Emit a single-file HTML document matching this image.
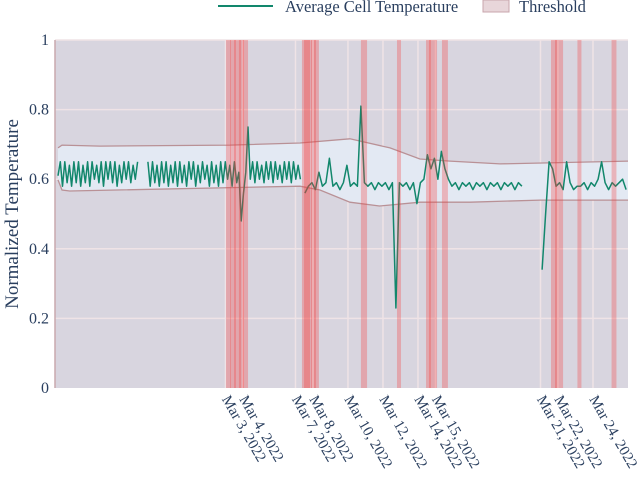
<!DOCTYPE html>
<html><head><meta charset="utf-8"><style>
html,body{margin:0;padding:0;background:#fff;}
svg{display:block;font-family:"Liberation Serif",serif;}
</style></head><body>
<svg id="chart" width="640" height="483" viewBox="0 0 640 483">
  <g>
    <g>
      <line x1="218" y1="6" x2="273" y2="6" stroke="#12876c" stroke-width="2"/>
      <text x="285" y="12" font-size="16.5" fill="#2a3f5f">Average Cell Temperature</text>
    </g>
    <g>
      <rect x="483" y="0" width="26" height="12" fill="#e8d6da" stroke="#c8a6ac" stroke-width="1"/>
      <text x="519" y="12" font-size="16.5" fill="#2a3f5f">Threshold</text>
    </g>
  </g>
  <rect x="55" y="40" width="573" height="348" fill="#d8d5df"/>
  <g id="grid"></g>
  <g id="band"></g>
  <g id="series"></g>
  <g id="anoms"></g>
  <line x1="55" y1="40" x2="55" y2="388" stroke="#c9a9ad" stroke-width="1.5"/>
  <g id="yticks"></g>
  <g id="xticks"></g>
  <text transform="translate(18,214) rotate(-90)" text-anchor="middle" font-size="19" fill="#2a3f5f">Normalized Temperature</text>
</svg>
<script>
// data (time in days relative to Mar 3, 2022)
const yTicks = [0, 0.2, 0.4, 0.6, 0.8, 1];
const yTickLabels = ["0", "0.2", "0.4", "0.6", "0.8", "1"];
const xTickDays = [0, 1, 4, 5, 7, 9, 11, 12, 18, 19, 21];
const xTickLabels = ["Mar 3, 2022","Mar 4, 2022","Mar 7, 2022","Mar 8, 2022","Mar 10, 2022","Mar 12, 2022","Mar 14, 2022","Mar 15, 2022","Mar 21, 2022","Mar 22, 2022","Mar 24, 2022"];
const upperT = [-9.57,-9.34,-7.17,0.26,4.26,7.11,9.4,11.11,12.83,15.69,23];
const upperV = [0.690,0.698,0.695,0.698,0.704,0.716,0.690,0.658,0.652,0.644,0.652];
const lowerT = [-9.57,-9.34,-8.9,4.26,5.4,7.11,8.8,11.11,13.97,17.97,23];
const lowerV = [0.598,0.569,0.566,0.580,0.569,0.534,0.523,0.534,0.534,0.540,0.540];
const segAStart = -9.57, segAStep = 0.13;
const segAVals = [0.61,0.65,0.58,0.65,0.59,0.64,0.58,0.65,0.59,0.65,0.58,0.64,0.59,0.65,0.58,0.65,0.60,0.64,0.59,0.65,0.58,0.65,0.60,0.65,0.59,0.65,0.58,0.64,0.59,0.65,0.60,0.65,0.59,0.64,0.60,0.65];
const segBStart = -4.43, segBStep = 0.13;
const segBVals = [0.65,0.58,0.65,0.59,0.64,0.58,0.65,0.59,0.65,0.58,0.64,0.59,0.65,0.58,0.65,0.59,0.64,0.58,0.65,0.60,0.65,0.58,0.64,0.59,0.65,0.60,0.64,0.58,0.65,0.59,0.64,0.58,0.65,0.59,0.65,0.60,0.64,0.58,0.65,0.59,0.62,0.48,0.56,0.62,0.75,0.60,0.65,0.59,0.65,0.60,0.64,0.59,0.65,0.60,0.65,0.59,0.65,0.60,0.64,0.59,0.65,0.60,0.65,0.59,0.65,0.60,0.64,0.60];
const segCStart = 4.54, segCStep = 0.2;
const segCVals = [0.56,0.58,0.59,0.57,0.62,0.58,0.59,0.66,0.58,0.59,0.57,0.59,0.64,0.58,0.59,0.58,0.81,0.59,0.58,0.59,0.57,0.59,0.58,0.59,0.57,0.59,0.23,0.59,0.58,0.59,0.57,0.59,0.53,0.59,0.60,0.67,0.63,0.66,0.60,0.68,0.63,0.60,0.58,0.59,0.57,0.59,0.58,0.59,0.57,0.59,0.58,0.59,0.57,0.59,0.58,0.59,0.57,0.59,0.58,0.59,0.57,0.59,0.58];
const segDStart = 18.09, segDStep = 0.2;
const segDVals = [0.34,0.50,0.65,0.63,0.58,0.59,0.57,0.65,0.59,0.57,0.58,0.58,0.59,0.57,0.59,0.58,0.60,0.65,0.59,0.57,0.59,0.58,0.59,0.60,0.57];
const anomStart = [0.03,0.26,0.49,0.77,1.0,4.37,4.49,4.6,4.89,5.06,7.74,9.8,11.46,11.63,12.37,18.6,18.83,20.11,22.06];
const anomEnd   = [0.31,0.6,0.89,1.06,1.29,4.6,4.83,4.94,5.17,5.34,8.09,10.03,11.74,12.09,12.71,18.94,19.29,20.34,22.34];

const NS = "http://www.w3.org/2000/svg";
const X0 = 55, X1 = 628, Y0 = 388, Y1 = 40, TMIN = -9.74, TMAX = 23.0;
function xs(t){ return X0 + (t - TMIN) / (TMAX - TMIN) * (X1 - X0); }
function ys(v){ return Y0 - v * (Y0 - Y1); }
function mk(tag, attrs, parent){ const e = document.createElementNS(NS, tag); for (const k in attrs) e.setAttribute(k, attrs[k]); parent.appendChild(e); return e; }

const grid = document.getElementById("grid");
yTicks.forEach((v, i) => {
  if (v === 0) return;
  const l = mk("line", {x1: X0, x2: X1, y1: ys(v), y2: ys(v), stroke: "#efe3e6", "stroke-width": 1.5}, grid);
  
  
});
xTickDays.forEach((d) => {
  const l = mk("line", {x1: xs(d), x2: xs(d), y1: Y1, y2: Y0, stroke: "#efe3e6", "stroke-width": 1.5}, grid);
  
  
});

const band = document.getElementById("band");
let d = "";
upperT.forEach((t, i) => { d += (i ? "L" : "M") + xs(t).toFixed(1) + "," + ys(upperV[i]).toFixed(1); });
for (let i = lowerT.length - 1; i >= 0; i--) d += "L" + xs(lowerT[i]).toFixed(1) + "," + ys(lowerV[i]).toFixed(1);
d += "Z";
const bf = mk("path", {d: d, fill: "#e3e9f3", stroke: "none"}, band);


function pl(T, V){ return T.map((t, i) => xs(t).toFixed(1) + "," + ys(V[i]).toFixed(1)).join(" "); }
const ul = mk("polyline", {points: pl(upperT, upperV), fill: "none", stroke: "#b99196", "stroke-width": 1.3}, band);


const ll = mk("polyline", {points: pl(lowerT, lowerV), fill: "none", stroke: "#b99196", "stroke-width": 1.3}, band);



const series = document.getElementById("series");
[[segAStart, segAStep, segAVals], [segBStart, segBStep, segBVals], [segCStart, segCStep, segCVals], [segDStart, segDStep, segDVals]].forEach((s) => {
  const T = s[2].map((v, i) => s[0] + i * s[1]);
  const p = mk("polyline", {points: pl(T, s[2]), fill: "none", stroke: "#12876c", "stroke-width": 1.5, "stroke-linejoin": "round"}, series);
  
  
});

const anoms = document.getElementById("anoms");
anomStart.forEach((s, i) => {
  const r = mk("rect", {x: xs(s), y: Y1, width: Math.max(1, xs(anomEnd[i]) - xs(s)), height: Y0 - Y1, fill: "rgba(245,60,60,0.3)"}, anoms);
  
  
});

const yt = document.getElementById("yticks");
yTicks.forEach((v, i) => {
  const t = mk("text", {x: 49, y: ys(v) + 5, "text-anchor": "end", "font-size": 16, fill: "#2a3f5f"}, yt);
  t.textContent = yTickLabels[i];
  
  
});
const xt = document.getElementById("xticks");
xTickDays.forEach((dd, i) => {
  const x = xs(dd) - 4, y = 399;
  const t = mk("text", {x: 0, y: 0, transform: "translate(" + x.toFixed(1) + "," + y + ") rotate(60)", "font-size": 15, fill: "#2a3f5f"}, xt);
  t.textContent = xTickLabels[i];
  
  
});
</script>
</body></html>
